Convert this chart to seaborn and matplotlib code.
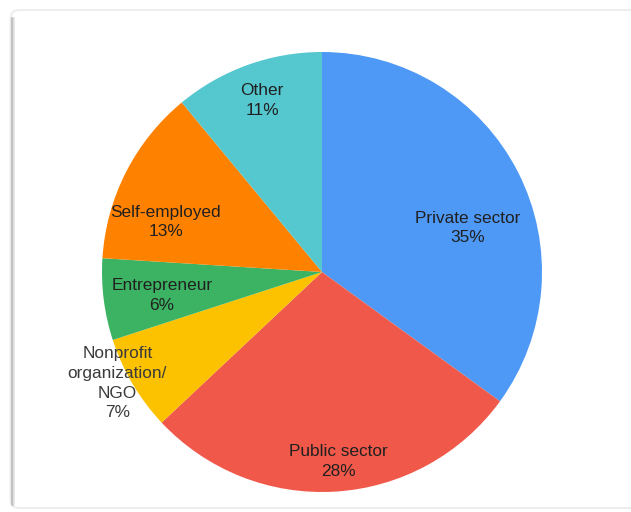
import matplotlib
matplotlib.use("Agg")
import matplotlib.pyplot as plt
from matplotlib.patches import FancyBboxPatch
from matplotlib.transforms import IdentityTransform
import seaborn as sns

# Share of respondents by employment type
categories = ["Private sector", "Public sector", "Nonprofit\norganization/\nNGO",
              "Entrepreneur", "Self-employed", "Other"]
shares = [35, 28, 7, 6, 13, 11]
colors = ["#4f99f6", "#f0594a", "#fcc200", "#3cb363", "#ff8100", "#55c7cf"]
# label anchor points in pie units (radius = 1)
label_pos = [(0.66, 0.20), (0.073, -0.86), (-0.93, -0.505),
             (-0.727, -0.105), (-0.71, 0.227), (-0.273, 0.78)]

sns.set_theme(style="white")
plt.rcParams["font.family"] = ["Liberation Sans", "DejaVu Sans"]

W, H, DPI = 631, 512, 100
fig = plt.figure(figsize=(W / DPI, H / DPI), dpi=DPI)
fig.patch.set_facecolor("white")

# rounded card behind the chart, with a soft shadow on its left side
px = IdentityTransform()
fig.patches.append(FancyBboxPatch((10.5, 4), 640, 498, boxstyle="round,pad=0,rounding_size=9",
                                  transform=px, facecolor="white",
                                  edgecolor="#ededed", linewidth=1.5, zorder=-3))
fig.add_artist(plt.Line2D([11.5, 11.5], [8, 494], transform=px,
                          color="#c2c2c2", linewidth=2.2, zorder=-2))
fig.add_artist(plt.Line2D([13.5, 13.5], [8, 494], transform=px,
                          color="#e4e4e4", linewidth=1.2, zorder=-2))

cx, cy, r = 322, 272, 220
ax = fig.add_axes([(cx - r) / W, (H - cy - r) / H, 2 * r / W, 2 * r / H])
ax.set_zorder(1)
ax.patch.set_alpha(0)
ax.pie(shares, colors=sns.color_palette(colors), startangle=90, counterclock=False,
       radius=1, wedgeprops=dict(linewidth=0))
ax.set_xlim(-1, 1)
ax.set_ylim(-1, 1)
ax.set_aspect("equal")
ax.axis("off")

for name, val, (x, y) in zip(categories, shares, label_pos):
    col = "#3a3a3a" if name.startswith("Nonprofit") else "#202020"
    ax.text(x, y, f"{name}\n{val}%", ha="center", va="center", fontsize=12.4,
            color=col, linespacing=1.4)

fig.savefig("out.png", dpi=DPI, facecolor="white")
